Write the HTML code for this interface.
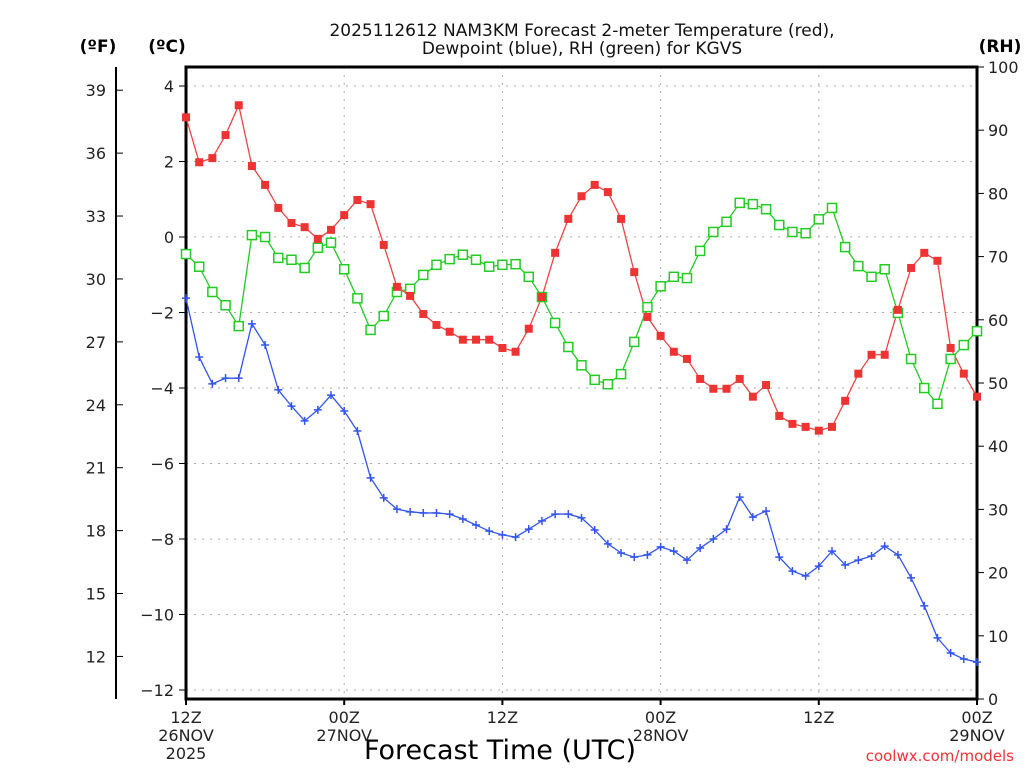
<!DOCTYPE html>
<html><head><meta charset="utf-8"><style>
body{margin:0;background:#fff}
svg{display:block;font-family:"DejaVu Sans","Liberation Sans",sans-serif}
</style></head><body>
<svg id="c" width="1024" height="768" viewBox="0 0 1024 768">
<text x="582" y="36" text-anchor="middle" font-size="17" fill="#111">2025112612 NAM3KM Forecast 2-meter Temperature (red),</text>
<text x="582" y="54" text-anchor="middle" font-size="17" fill="#111">Dewpoint (blue), RH (green) for KGVS</text>
<text x="98" y="52" text-anchor="middle" font-size="17" font-weight="bold" fill="#000">(ºF)</text>
<text x="167" y="52" text-anchor="middle" font-size="17" font-weight="bold" fill="#000">(ºC)</text>
<text x="1000" y="52" text-anchor="middle" font-size="17" font-weight="bold" fill="#000">(RH)</text>
<text x="500" y="759" text-anchor="middle" font-size="27" fill="#000">Forecast Time (UTC)</text>
<text x="1014" y="761" text-anchor="end" font-size="15" fill="#e33">coolwx.com/models</text>
<g id="grid"></g><g id="axes"></g><g id="series"></g>
</svg>
<script>
const hours=[];for(let i=0;i<=60;i++)hours.push(i);
const tempC=[3.17,1.98,2.09,2.70,3.49,1.88,1.38,0.77,0.37,0.26,-0.05,0.19,0.58,0.98,0.87,-0.21,-1.32,-1.56,-2.04,-2.33,-2.51,-2.72,-2.72,-2.72,-2.94,-3.04,-2.43,-1.59,-0.42,0.48,1.08,1.38,1.19,0.48,-0.93,-2.12,-2.62,-3.04,-3.23,-3.76,-4.02,-4.02,-3.76,-4.23,-3.92,-4.74,-4.95,-5.03,-5.13,-5.03,-4.34,-3.62,-3.12,-3.12,-1.93,-0.82,-0.42,-0.63,-2.94,-3.62,-4.23];
const dewC=[-1.62,-3.18,-3.89,-3.74,-3.74,-2.30,-2.86,-4.05,-4.48,-4.87,-4.58,-4.19,-4.61,-5.14,-6.38,-6.91,-7.21,-7.28,-7.31,-7.31,-7.34,-7.47,-7.63,-7.79,-7.89,-7.95,-7.74,-7.52,-7.34,-7.34,-7.44,-7.76,-8.13,-8.37,-8.48,-8.42,-8.21,-8.32,-8.56,-8.24,-8.00,-7.74,-6.89,-7.42,-7.26,-8.48,-8.85,-8.98,-8.72,-8.32,-8.69,-8.56,-8.45,-8.19,-8.42,-9.03,-9.77,-10.62,-11.02,-11.18,-11.26];
const rh=[70.4,68.4,64.4,62.3,59.0,73.4,73.1,69.8,69.5,68.2,71.4,72.2,68.0,63.4,58.4,60.6,64.4,64.9,67.1,68.7,69.6,70.3,69.5,68.4,68.7,68.8,66.8,63.6,59.5,55.7,52.8,50.5,49.8,51.4,56.5,62.0,65.3,66.8,66.6,70.9,73.9,75.5,78.5,78.3,77.5,75.0,73.9,73.7,75.9,77.7,71.5,68.5,66.8,68.0,61.1,53.8,49.2,46.7,53.8,56.0,58.2];
const cTicks=[4,2,0,-2,-4,-6,-8,-10,-12];
const fTicks=[39,36,33,30,27,24,21,18,15,12];
const rhTicks=[0,10,20,30,40,50,60,70,80,90,100];
const xTickHours=[0,12,24,36,48,60];
const xTickLabels=[["12Z","26NOV","2025"],["00Z","27NOV"],["12Z"],["00Z","28NOV"],["12Z"],["00Z","29NOV"]];

const L=186,R=977,T=67,B=699;
const xs=h=>L+(R-L)*h/60;
const yc=c=>237-c*37.75;
const yf=f=>yc((f-32)*5/9);
const yr=r=>B-(B-T)*r/100;
const NS="http://www.w3.org/2000/svg";
function mk(tag,attrs,parent){const e=document.createElementNS(NS,tag);for(const k in attrs)e.setAttribute(k,attrs[k]);parent.appendChild(e);return e;}
const grid=document.getElementById('grid'),axes=document.getElementById('axes'),ser=document.getElementById('series');
cTicks.forEach(c=>{const g=mk('line',{x1:L,x2:R,y1:yc(c),y2:yc(c),stroke:'#aaa','stroke-dasharray':'2,6'},grid);


const t=mk('line',{x1:L-7,x2:L,y1:yc(c),y2:yc(c),stroke:'#000'},axes);


const tx=mk('text',{x:L-12,y:yc(c)+6,'text-anchor':'end','font-size':16,fill:'#222'},axes);tx.textContent=c<0?'\u2212'+(-c):c;

});
xTickHours.forEach((h,i)=>{if(h>0&&h<60){const g=mk('line',{x1:xs(h),x2:xs(h),y1:T,y2:B,stroke:'#aaa','stroke-dasharray':'2,6'},grid);

}
mk('line',{x1:xs(h),x2:xs(h),y1:B,y2:B+6,stroke:'#000','stroke-width':2},axes);
xTickLabels[i].forEach((s,j)=>{const t=mk('text',{x:xs(h),y:B+24+j*18,'text-anchor':'middle','font-size':16,fill:'#222'},axes);t.textContent=s;

});});
fTicks.forEach(f=>{mk('line',{x1:116,x2:123,y1:yf(f),y2:yf(f),stroke:'#000'},axes);
const t=mk('text',{x:106,y:yf(f)+6,'text-anchor':'end','font-size':16,fill:'#222'},axes);t.textContent=f;

});
rhTicks.forEach(r=>{mk('line',{x1:R,x2:R+7,y1:yr(r),y2:yr(r),stroke:'#000'},axes);
const t=mk('text',{x:R+11,y:yr(r)+6,'font-size':16,fill:'#222'},axes);t.textContent=r;

});
const fa=mk('line',{x1:116,x2:116,y1:T,y2:B,stroke:'#000','stroke-width':2},axes);


const fr=mk('rect',{x:L,y:T,width:R-L,height:B-T,fill:'none',stroke:'#000','stroke-width':3},axes);


function line(vals,yfn,color,name){const p=mk('polyline',{points:vals.map((v,i)=>xs(hours[i])+','+yfn(v)).join(' '),fill:'none',stroke:color,'stroke-width':1.3},ser);

}
line(rh,yr,'#22cc22','rh-line');
line(tempC,yc,'#ee4444','temperature-line');
line(dewC,yc,'#3355ee','dewpoint-line');
rh.forEach((v,i)=>{const m=mk('rect',{x:xs(hours[i])-4.5,y:yr(v)-4.5,width:9,height:9,fill:'#fff',stroke:'#22cc22','stroke-width':1.5},ser);

});
tempC.forEach((v,i)=>{const m=mk('rect',{x:xs(hours[i])-4,y:yc(v)-4,width:8,height:8,fill:'#ee3333'},ser);

});
dewC.forEach((v,i)=>{const x=xs(hours[i]),y=yc(v);const m=mk('path',{d:`M${x-4},${y}H${x+4}M${x},${y-4}V${y+4}`,stroke:'#3355ee','stroke-width':1.5},ser);

});
</script>
</body></html>
